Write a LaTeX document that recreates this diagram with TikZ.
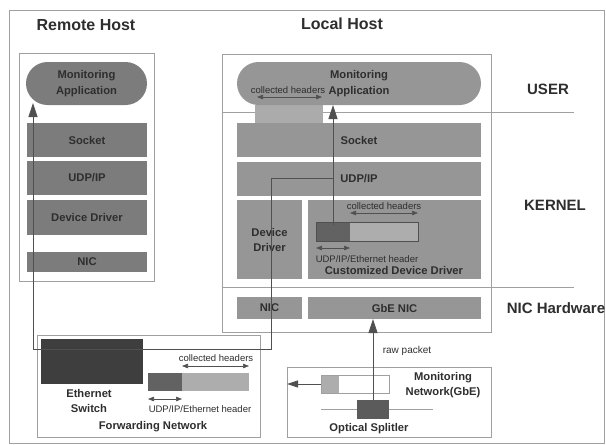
\documentclass[tikz,border=0pt]{standalone}
\usepackage{fontspec}
\setmainfont{Liberation Sans}
\usetikzlibrary{arrows.meta}
\definecolor{framegray}{HTML}{A0A0A0}
\definecolor{rfill}{HTML}{7C7C7C}
\definecolor{lfill}{HTML}{969696}
\definecolor{bufill}{HTML}{ABABAB}
\definecolor{txt}{HTML}{2E2E2E}
\definecolor{pathcol}{HTML}{505050}
\definecolor{darkfill}{HTML}{3E3E3E}
\definecolor{hdrdark}{HTML}{626262}
\definecolor{hdrlight}{HTML}{ADADAD}
\begin{document}
\begin{tikzpicture}[x=1pt,y=-1pt,
  every node/.style={inner sep=0pt, outer sep=0pt, text=txt, align=center},
  frame/.style={draw=framegray, line width=0.7pt},
  sep/.style={draw=framegray, line width=0.7pt},
  blk/.style={font=\fontsize{11.2}{15.5}\selectfont\bfseries},
  rblock/.style={blk, fill=rfill},
  lblock/.style={blk, fill=lfill},
  pill/.style={rounded corners=21.5pt},
  title/.style={font=\fontsize{16}{18}\selectfont\bfseries},
  layer/.style={font=\fontsize{15}{18}\selectfont\bfseries},
  label/.style={font=\fontsize{11.2}{15}\selectfont\bfseries},
  small/.style={font=\fontsize{9.5}{11}\selectfont},
  flow/.style={draw=pathcol, line width=0.8pt},
  bigtip/.style={flow, -{Triangle[length=14pt,width=9pt]}},
  lefttip/.style={flow, -{Triangle[length=11pt,width=7pt]}},
  span/.style={draw=pathcol, line width=0.6pt, {Triangle[length=6pt,width=4.5pt]}-{Triangle[length=6pt,width=4.5pt]}}
]
\useasboundingbox (0,0) rectangle (606,445);

% outer frame
\node[frame, minimum width=595pt, minimum height=433pt, anchor=north west] (outer) at (9,10) {};

% ---------------- remote host ----------------
\node[title] (rtitle) at (86,25) {Remote Host};
\node[frame, minimum width=135pt, minimum height=228pt, anchor=north west] (remote) at (19,53) {};
\node[rblock, pill, minimum width=121pt, minimum height=43pt] (rapp) at (86.5,83.5) {Monitoring\\Application};
\node[rblock, minimum width=120pt, minimum height=34pt] (rsock) at (87,140) {Socket};
\node[rblock, minimum width=120pt, minimum height=34pt] (rudp) at (87,178) {UDP/IP};
\node[rblock, minimum width=120pt, minimum height=35pt] (rdd) at (87,217.5) {Device Driver};
\node[rblock, minimum width=120pt, minimum height=20pt] (rnic) at (87,262) {NIC};

% ---------------- local host ----------------
\node[title] (ltitle) at (342,24) {Local Host};
\node[frame, minimum width=269pt, minimum height=278pt, anchor=north west] (local) at (222,54) {};

% layer separators
\coordinate (userL) at (222,112);
\coordinate (userR) at (574,112);
\coordinate (nicL) at (222,287);
\coordinate (nicR) at (574,287);
\draw[sep] (userL) -- (userR);
\draw[sep] (nicL) -- (nicR);

\node[layer] (luser) at (548,89) {USER};
\node[layer] (lkernel) at (555,205) {KERNEL};
\node[layer] (lhw) at (556,308) {NIC Hardware};

\node[fill=bufill, minimum width=68pt, minimum height=18pt] (hbuf) at (289,114) {};
\node[lblock, pill, minimum width=244pt, minimum height=43pt] (lapp) at (359,83.5) {Monitoring\\Application};
\node[small] (lcoll) at (288,90) {collected headers};
\coordinate (lcollA) at (257,97);
\coordinate (lcollB) at (322,97);
\draw[span] (lcollA) -- (lcollB);

\node[lblock, minimum width=244pt, minimum height=34pt] (lsock) at (359,140) {Socket};
\node[lblock, minimum width=244pt, minimum height=34pt] (ludp) at (359,179) {UDP/IP};
\node[lblock, font=\fontsize{11.2}{15}\selectfont\bfseries, minimum width=65pt, minimum height=79pt] (ldd) at (269.5,239.5) {Device\\Driver};
\node[lblock, minimum width=173pt, minimum height=79pt] (lcdd) at (394.5,239.5) {};
\node[lblock, minimum width=65pt, minimum height=22pt] (lnic) at (269.5,308) {NIC};
\node[lblock, minimum width=173pt, minimum height=22pt] (lgbe) at (394.5,308) {GbE NIC};

% header buffer inside the customized driver
\node[fill=hdrdark, minimum width=34pt, minimum height=19pt, anchor=north west] (chA) at (316,222) {};
\node[fill=hdrlight, minimum width=68pt, minimum height=19pt, anchor=north west] (chB) at (350,222) {};
\draw[draw=pathcol, line width=0.5pt] (chA.north west) rectangle (chB.south east);
\node[small] (ccoll) at (384,206) {collected headers};
\draw[span] (chA.north east |- 0,213) -- (chB.north east |- 0,213);
\draw[span] (chA.south west |- 0,248) -- (chA.south east |- 0,248);
\node[small] (chdr) at (367,259) {UDP/IP/Ethernet header};
\node[blk] (cname) at (394,270) {Customized Device Driver};

% ---------------- forwarding network ----------------
\node[frame, minimum width=223pt, minimum height=102pt, anchor=north west] (fwd) at (37,335) {};
\node[fill=darkfill, minimum width=102pt, minimum height=45pt] (esw) at (92,361.5) {};
\node[label] (eswlbl) at (89,401) {Ethernet\\Switch};
\node[fill=hdrdark, minimum width=34pt, minimum height=18pt, anchor=north west] (fpA) at (148,373) {};
\node[fill=hdrlight, minimum width=67pt, minimum height=18pt, anchor=north west] (fpB) at (182,373) {};
\node[small] (fcoll) at (216,358) {collected headers};
\draw[span] (fpB.north west |- 0,366) -- (fpB.north east |- 0,366);
\draw[span] (fpA.south west |- 0,399) -- (fpA.south east |- 0,399);
\node[small] (fhdr) at (200,409) {UDP/IP/Ethernet header};
\node[label] (fname) at (153,427) {Forwarding Network};

% ---------------- monitoring network ----------------
\node[frame, minimum width=204pt, minimum height=70pt, anchor=north west] (mon) at (287,367) {};
\node[fill=hdrlight, minimum width=18pt, minimum height=18pt, anchor=north west] (mpA) at (321,375) {};
\node[fill=white, minimum width=50pt, minimum height=18pt, anchor=north west] (mpB) at (339,375) {};
\draw[draw=framegray, line width=0.6pt] (mpA.north west) rectangle (mpB.south east);
\coordinate (fibL) at (321,409);
\coordinate (fibR) at (433,409);
\draw[draw=framegray, line width=0.7pt] (fibL) -- (fibR);
\node[fill=darkfill!85!white, minimum width=32pt, minimum height=19pt] (split) at (373,409.5) {};
\node[label] (splitlbl) at (369,429) {Optical Splitler};
\node[label] (monlbl) at (443,385) {Monitoring\\Network(GbE)};
\node[font=\fontsize{10}{12}\selectfont] (raw) at (407,351) {raw packet};

% ---------------- packet flows ----------------
\draw[bigtip] (split.north) -- (split.north |- lgbe.south);
\draw[lefttip] (mpA.west) -- (mpA.west -| mon.west);

\coordinate (tap) at (333,225);
\coordinate (branch) at (333,178);
\coordinate (c1) at (271,178);
\coordinate (c2) at (271,349);
\coordinate (c3) at (33,349);
\coordinate (rin) at (33,103);
\draw[bigtip] (tap) -- (tap |- lapp.south);
\draw[bigtip] (branch) -- (c1) -- (c2) -- (c3) -- (rin);
\end{tikzpicture}
\end{document}
